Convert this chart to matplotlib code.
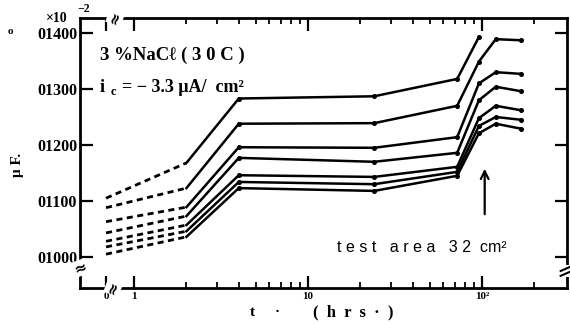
import matplotlib
matplotlib.use("Agg")
import matplotlib.pyplot as plt
import numpy as np
from matplotlib.ticker import FixedLocator, NullFormatter
from matplotlib.patches import Rectangle
from matplotlib.lines import Line2D

# ---------------- data ----------------
times = [0, 2, 4, 24, 72, 96, 120, 168]          # hrs
T0_POS = 0.69                                      # where t=0 is drawn on the broken log axis
s1 = [0.1105, 0.1168, 0.1283, 0.1287, 0.1318, 0.1393]
s2 = [0.1088, 0.1123, 0.1238, 0.1239, 0.1270, 0.1349, 0.1389, 0.1387]
s3 = [0.1063, 0.1089, 0.1196, 0.1195, 0.1214, 0.1310, 0.1330, 0.1327]
s4 = [0.1043, 0.1073, 0.1177, 0.1170, 0.1186, 0.1280, 0.1304, 0.1296]
s5 = [0.1028, 0.1057, 0.1146, 0.1143, 0.1161, 0.1248, 0.1270, 0.1262]
s6 = [0.1018, 0.1046, 0.1134, 0.1130, 0.1152, 0.1234, 0.1250, 0.1245]
s7 = [0.1005, 0.1036, 0.1123, 0.1118, 0.1145, 0.1221, 0.1238, 0.1229]
series = [s1, s2, s3, s4, s5, s6, s7]
yticks = [0.100, 0.110, 0.120, 0.130, 0.140]
ytick_labels = ["01000", "01100", "01200", "01300", "01400"]
xtick_vals = [T0_POS, 1, 10, 100]
xtick_labels = ["0", "1", "10", "10²"]

SERIF = ["Liberation Serif", "DejaVu Serif"]
plt.rcParams['font.family'] = SERIF

W, H = 570, 324
fig = plt.figure(figsize=(W / 100, H / 100), dpi=100)
L, R, T, B = 80, 567, 18, 288
ax = fig.add_axes([L / W, (H - B) / H, (R - L) / W, (B - T) / H])

ax.set_xscale('log')
ax.set_xlim(0.489, 308)
ax.set_ylim(0.09446, 0.14268)

tpos = np.array([T0_POS if t == 0 else t for t in times], dtype=float)
for s in series:
    n = len(s)
    x = tpos[:n]
    y = np.array(s)
    ax.plot(x[:2], y[:2], color='black', lw=2.0, ls=(0, (2.2, 1.6)),
            solid_capstyle='butt', dash_capstyle='butt')
    ax.plot(x[1:], y[1:], color='black', lw=1.8, solid_joinstyle='miter')
    ax.plot(x[2:], y[2:], ls='none', color='black', marker='o', ms=2.6)

# ticks
ax.xaxis.set_major_locator(FixedLocator(xtick_vals))
ax.set_xticklabels(xtick_labels)
minor = [m * d for d in (1, 10, 100) for m in range(2, 10)]
minor = [v for v in minor if v < 300]
ax.xaxis.set_minor_locator(FixedLocator(minor))
ax.xaxis.set_minor_formatter(NullFormatter())
ax.set_yticks(yticks)
ax.set_yticklabels(ytick_labels)
ax.yaxis.set_minor_locator(FixedLocator([]))

ax.tick_params(axis='both', which='major', direction='in', length=9, width=1.6,
               top=True, right=True)
ax.tick_params(axis='x', which='minor', direction='in', length=4, width=1.3,
               top=True)
ax.tick_params(axis='x', which='major', labelsize=8, pad=3)
ax.tick_params(axis='y', which='major', labelsize=11.5, pad=2)
for lab in ax.get_xticklabels() + ax.get_yticklabels():
    lab.set_fontweight('bold')

for sp in ax.spines.values():
    sp.set_linewidth(2.0)

# axis break marks
brk = dict(ha='center', va='center', fontsize=11, fontweight='bold',
           bbox=dict(facecolor='white', edgecolor='none', pad=0.3),
           clip_on=False, zorder=5, family=["DejaVu Sans"])
ax.text(0.0, 0.074, "≈", transform=ax.transAxes, rotation=20, **brk)
ax.text(0.068, 0.0, "≈", transform=ax.transAxes, rotation=70, **brk)
ax.text(0.072, 1.0, "≈", transform=ax.transAxes, rotation=70, **brk)
# right-hand break drawn with lines (it sits at the picture's edge)
ax.add_patch(Rectangle((0.99, 0.040), 0.02, 0.045, transform=ax.transAxes,
                       facecolor='white', edgecolor='none', clip_on=False, zorder=5))
for dy in (0.0, 0.018):
    ax.add_line(Line2D([0.987, 1.006], [0.045 + dy, 0.060 + dy],
                       transform=ax.transAxes, color='black', lw=1.5,
                       clip_on=False, zorder=6))

# annotations
fig.text(100 / W, 1 - 55 / H, "3 %NaCℓ ( 3 0 C )", fontsize=13.5, fontweight='bold',
         va='center', ha='left')
fig.text(100 / W, 1 - 88 / H, "i", fontsize=13, fontweight='bold', va='center')
fig.text(111 / W, 1 - 92 / H, "c", fontsize=9, fontweight='bold', va='center')
fig.text(122 / W, 1 - 88 / H, "= − 3.3 μA/  cm²", fontsize=13, fontweight='bold',
         va='center')
fig.text(337 / W, 1 - 248 / H, "t e s t   a r e a   3 2  cm²", fontsize=11.5,
         va='center', ha='left', family=["Liberation Sans", "DejaVu Sans"])
ax.annotate("", xy=(0.831, (B - 166) / (B - T)), xytext=(0.831, (B - 217) / (B - T)),
            xycoords='axes fraction',
            arrowprops=dict(arrowstyle='->', lw=1.6, color='black',
                            mutation_scale=14))

fig.text(18 / W, 1 - 165 / H, "μ F.", rotation=90, fontsize=11, fontweight='bold',
         va='center', ha='center')
fig.text(252 / W, 1 - 312 / H, "t", fontsize=11, fontweight='bold',
         va='center', ha='center')
fig.text(277 / W, 1 - 312 / H, "·", fontsize=11, fontweight='bold',
         va='center', ha='center')
fig.text(313 / W, 1 - 312 / H, "(  h  r  s  ·  )", fontsize=12,
         fontweight='bold', va='center', ha='left')
fig.text(46 / W, 1 - 18 / H, "×10", fontsize=10, fontweight='bold', va='center',
         ha='left')
fig.text(77 / W, 1 - 9 / H, "−2", fontsize=8.5, fontweight='bold', va='center',
         ha='left')
fig.text(10 / W, 1 - 31 / H, "o", fontsize=8, fontweight='bold', va='center',
         ha='center')

fig.savefig("out.png", dpi=100)
